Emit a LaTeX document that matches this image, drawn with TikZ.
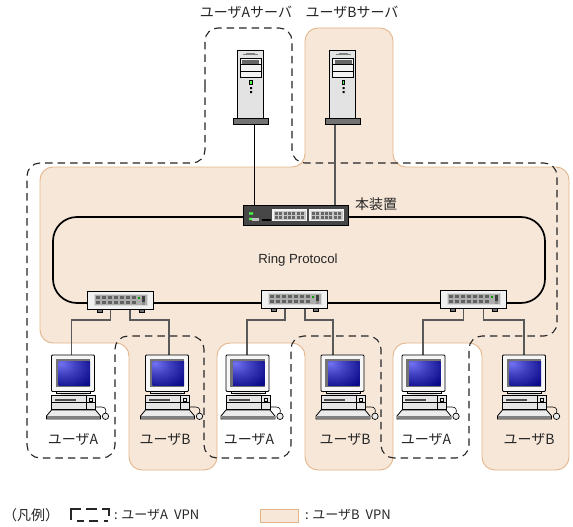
\documentclass[tikz,border=0pt]{standalone}
\usepackage{fontspec}
\setmainfont{Liberation Sans}
\newfontfamily\jpfont{Noto Sans CJK JP}
\pgfdeclareradialshading{scrshade}{\pgfpoint{-22bp}{22bp}}{
  rgb(0bp)=(0.45,0.45,0.95);
  rgb(20bp)=(0.25,0.25,0.75);
  rgb(45bp)=(0.05,0.05,0.55);
  rgb(70bp)=(0,0,0.45);
  rgb(100bp)=(0,0,0.4)}
\definecolor{peach}{HTML}{F7E7D8}
\definecolor{peachedge}{HTML}{E3B68A}
\definecolor{wiregray}{HTML}{595959}
\tikzset{
  x=1pt,y=-1pt,
  every node/.style={inner sep=0pt,outer sep=0pt,text=black!85},
  blk/.style={draw=black,line width=0.9pt},
  vpnb/.style={fill=peach,draw=peachedge,line width=0.9pt,rounded corners=13pt},
  vpna/.style={draw=black!85,line width=1.1pt,dash pattern=on 7.5pt off 5pt,rounded corners=13pt},
  ringline/.style={draw=black,line width=1.7pt,rounded corners=24pt},
  wirethin/.style={draw=black,line width=0.8pt},
  wirethick/.style={draw=wiregray,line width=1.2pt},
  legenda/.style={draw=black!85,line width=1.1pt},
  jp/.style={font=\jpfont\fontsize{14}{16}\selectfont},
  jpleg/.style={font=\jpfont\fontsize{13}{15}\selectfont},
  serverpic/.pic={
    \fill[blk,fill=black!11] (0,0) rectangle (26,68);
    \draw[black!50,line width=0.8pt] (6,4) -- (21,4);
    \fill[black!50] (9,2.8) rectangle (18,5.2);
    \fill[blk,fill=black!5,line width=0.7pt] (3,8) rectangle (24,27);
    \draw[black,line width=0.7pt] (3,14.5) -- (24,14.5) (3,21) -- (24,21);
    \fill[black!60] (5,10) rectangle (22,14);
    \fill[draw=black,line width=0.6pt,fill=green!70!white] (12.5,30.5) rectangle (15,34.5);
    \fill[black] (13,37) rectangle (15,39) (13,41) rectangle (15,43);
    \fill[blk,fill=black!55] (-4,68) rectangle (31,74);
  },
  bigswitch/.pic={
    \fill[blk,fill=black!72] (0,0) rectangle (105,20);
    \fill[green!70!white] (8,8.5) +(-2,-1.2) rectangle +(2,1.2) (8,14) +(-2,-1.2) rectangle +(2,1.2);
    \fill[black!25] (9,12.5) ++(0,0) rectangle ++(7,3);
    \fill[black] (19,14) rectangle (28,16);
    \foreach \px in {29,66}{
      \fill[black!5] (\px,4) rectangle ++(35,12);
      \fill[black!22] (\px+1.5,5.5) rectangle ++(32,9);
      \foreach \i in {0,...,6}{
        \fill[black!60] (\px+3+\i*4.3,6.5) rectangle ++(3,3);
        \fill[black!60] (\px+3+\i*4.3,11) rectangle ++(3,3);
      }
    }
  },
  smallswitch/.pic={
    \fill[black!55] (10,18) rectangle (15,21) (52,18) rectangle (57,21);
    \draw[black,line width=0.6pt] (10,18) rectangle (15,21) (52,18) rectangle (57,21);
    \fill[blk,fill=black!6] (0,0) rectangle (66,18);
    \fill[black!32,draw=black!15,line width=0.6pt] (7,3.5) rectangle (60,14.5);
    \foreach \i in {0,...,6}{
      \fill[black!62] (9+\i*6,5) rectangle ++(4.2,3.4);
      \fill[black!62] (9+\i*6,9.6) rectangle ++(4.2,3);
    }
    \fill[green!60!black] (51,6) rectangle ++(2,2);
    \fill[black!75] (55,5) rectangle (58,11);
    \fill[black!45] (55,11) rectangle (58,14);
  },
  pcpic/.pic={
    % monitor
    \fill[blk,fill=black!3,rounded corners=1pt] (0,0) rectangle (43,36.5);
    \fill[black!55] (4,4) rectangle (38.7,31.5);
    \fill[shading=scrshade] (7,6.7) rectangle (38.7,30);
    \fill[blk,fill=black!8,line width=0.7pt] (5,36.5) -- (39,36.5) -- (39,38.5) -- (5,38.5) -- cycle;
    \fill[black!15] (9,38.5) rectangle (35,40);
    % base unit
    \fill[blk,fill=black!10,line width=0.8pt] (0,40) rectangle (44,54);
    \draw[black,line width=0.7pt] (0,47) -- (44,47) (35,40) -- (35,54);
    \fill[black!70] (3,43.7) rectangle (24,45.7);
    \fill[draw=black,line width=0.6pt,fill=black!10] (38,43) rectangle (41,46);
    % keyboard
    \fill[blk,fill=black!8,line width=0.8pt] (0,55) -- (44,55) -- (49,61) -- (49,64) -- (-5,64) -- (-5,61) -- cycle;
    \fill[black!50] (-4.5,61.2) rectangle (48.5,63.6);
    % mouse
    \draw[black,line width=0.6pt] (44,52) -- (50,52) .. controls (54,52) and (55,55) .. (54,58);
    \fill[blk,fill=black!8,line width=0.7pt] (54,61.3) circle (3.2);
  }
}
\begin{document}
\begin{tikzpicture}
\useasboundingbox (0,0) rectangle (573,527);
\fill[white] (0,0) rectangle (573,527);
% VPN areas
\draw[vpnb] (349,28) -- (393,28) -- (393,167) -- (569,167) -- (569,470) -- (482,470) -- (482,343) -- (393,343) -- (393,470) -- (305,470) -- (305,343) -- (217,343) -- (217,470) -- (129,470) -- (129,343) -- (40,343) -- (40,167) -- (305,167) -- (305,28) -- cycle;
\draw[vpna] (205,100) -- (205,28) -- (292,28) -- (292,163) -- (557,163) -- (557,336) -- (469,336) -- (469,458) -- (381,458) -- (381,336) -- (291,336) -- (291,458) -- (204,458) -- (204,336) -- (115,336) -- (115,458) -- (27,458) -- (27,163) -- (205,163) -- cycle;
% ring
\draw[ringline] (53,217) rectangle (545,303);
% ports
\coordinate (srvAport) at (254.5,124);
\coordinate (srvBport) at (335,124);
\coordinate (mainA) at (254.5,205);
\coordinate (mainB) at (335,205);
\coordinate (swLa) at (110.7,309);
\coordinate (swLb) at (130,309);
\coordinate (swMa) at (285,309);
\coordinate (swMb) at (305,309);
\coordinate (swRa) at (463.7,309);
\coordinate (swRb) at (483.7,309);
\coordinate (pc1) at (71.7,355);
\coordinate (pc2) at (169,355);
\coordinate (pc3) at (247,355);
\coordinate (pc4) at (333,355);
\coordinate (pc5) at (423,355);
\coordinate (pc6) at (524,355);
% wires
\draw[wirethin] (srvAport) -- (mainA);
\draw[wirethick] (srvBport) -- (mainB);
\draw[wirethick] (swLa) -- ++(0,11) -| (pc1);
\draw[wirethick] (swLb) -- ++(0,11) -| (pc2);
\draw[wirethick] (swMa) -- ++(0,11) -| (pc3);
\draw[wirethick] (swMb) -- ++(0,11) -| (pc4);
\draw[wirethick] (swRa) -- ++(0,11) -| (pc5);
\draw[wirethick] (swRb) -- ++(0,11) -| (pc6);
% devices
\pic at (237,50) {serverpic};
\pic at (329.5,50) {serverpic};
\pic at (243,205) {bigswitch};
\pic at (87,291) {smallswitch};
\pic at (261,290) {smallswitch};
\pic at (440,290) {smallswitch};
\pic at (51.5,355) {pcpic};
\pic at (145.5,355) {pcpic};
\pic at (226,355) {pcpic};
\pic at (321,355) {pcpic};
\pic at (402,355) {pcpic};
\pic at (502.5,355) {pcpic};
% labels
\node[jp] (lsa) at (246,12) {ユーザAサーバ};
\node[jp] (lsb) at (352,12) {ユーザBサーバ};
\node[jp] (lmain) at (376,204) {本装置};
\node[font=\fontsize{13.2}{15}\selectfont] (lring) at (298,260) {Ring Protocol};
\node[jp] (u1) at (73,439) {ユーザA};
\node[jp] (u2) at (165,439) {ユーザB};
\node[jp] (u3) at (249,439) {ユーザA};
\node[jp] (u4) at (345,439) {ユーザB};
\node[jp] (u5) at (426,439) {ユーザA};
\node[jp] (u6) at (529,439) {ユーザB};
% legend
\node[jp] (lg) at (31,515) {（凡例）};
\draw[legenda] (71,520) -- (71,509) -- (81,509) (86,509) -- (97,509) (102,509) -- (109,509) -- (109,516);
\draw[legenda] (77,521) -- (84,521) (89,521) -- (98,521) (104,521) -- (108,521);
\node[jpleg,anchor=west] (lga) at (114,515) {: ユーザA\hspace{3pt} VPN};
\draw[fill=peach,draw=peachedge,line width=0.9pt] (260,509) rectangle (298,522);
\node[jpleg,anchor=west] (lgb) at (305,515) {: ユーザB\hspace{3pt} VPN};
\end{tikzpicture}
\end{document}
